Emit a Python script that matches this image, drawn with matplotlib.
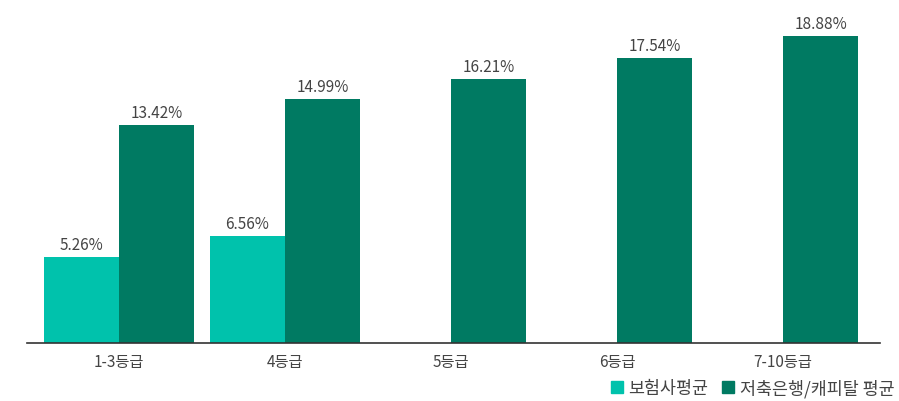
import matplotlib
matplotlib.use("Agg")
import matplotlib.pyplot as plt
from matplotlib.patches import Patch
import numpy as np

plt.rcParams['font.family'] = ['Noto Sans CJK KR', 'DejaVu Sans']

grades = ["1-3등급", "4등급", "5등급", "6등급", "7-10등급"]
insurer = [5.26, 6.56, None, None, None]
savings = [13.42, 14.99, 16.21, 17.54, 18.88]
series_names = ["보험사평균", "저축은행/캐피탈 평균"]

light = "#00C2AC"
dark = "#007A62"
txt = "#444444"

fig = plt.figure(figsize=(8.99, 4.02), dpi=100)
ax = fig.add_axes([27/899, 58/402, 853/899, 344/402])

x = np.arange(len(grades))
w = 0.452

for i in range(len(grades)):
    if insurer[i] is not None:
        ax.bar(x[i] - w/2, insurer[i], w, color=light)
        ax.text(x[i] - w/2, insurer[i] + 0.25, f"{insurer[i]:.2f}%",
                ha="center", va="bottom", fontsize=11, color=txt)
    ax.bar(x[i] + w/2, savings[i], w, color=dark)
    ax.text(x[i] + w/2, savings[i] + 0.25, f"{savings[i]:.2f}%",
            ha="center", va="bottom", fontsize=11, color=txt)

ax.set_xlim(-0.554, 4.584)
ax.set_ylim(0, 21.16)
ax.set_xticks(x)
ax.set_xticklabels(grades, fontsize=11, color=txt)
ax.tick_params(axis="x", length=0, pad=7)
ax.set_yticks([])
for s in ["top", "right", "left"]:
    ax.spines[s].set_visible(False)
ax.spines["bottom"].set_color("#333333")
ax.spines["bottom"].set_linewidth(1.2)

handles = [Patch(color=light), Patch(color=dark)]
fig.legend(handles, series_names, loc="lower right", bbox_to_anchor=(1.012, -0.03),
           ncol=2, frameon=False, fontsize=12.5, handlelength=0.7, handleheight=0.7,
           handletextpad=0.3, columnspacing=0.8, labelcolor=txt)

fig.savefig("out.png", dpi=100)
